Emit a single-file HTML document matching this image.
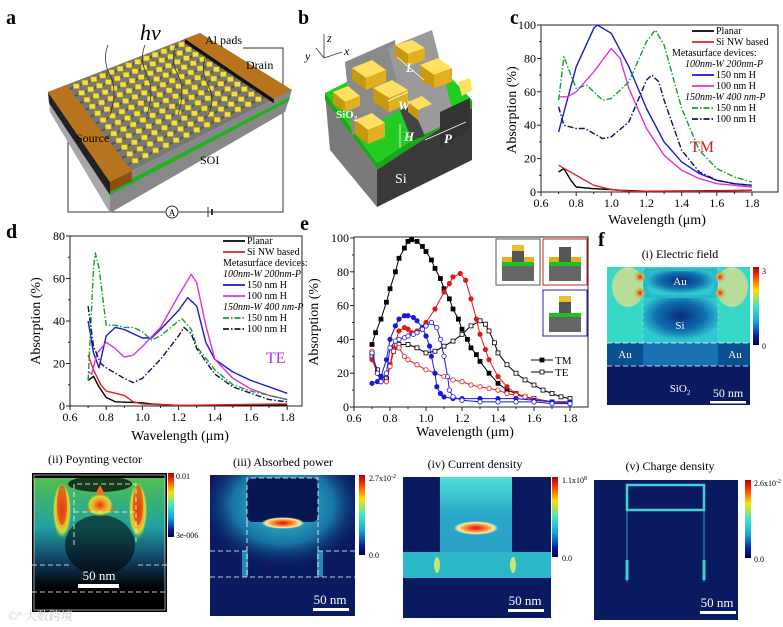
<!DOCTYPE html>
<html><head><meta charset="utf-8"><style>
html,body{margin:0;padding:0;background:#fff;}
svg{display:block;font-family:"Liberation Serif","Noto Serif CJK SC",serif;}
</style></head><body>
<svg id="fig" width="783" height="627" viewBox="0 0 783 627" xmlns="http://www.w3.org/2000/svg">
<defs>
<linearGradient id="jet" x1="0" y1="0" x2="0" y2="1">
<stop offset="0" stop-color="#b00000"/><stop offset="0.12" stop-color="#ff3a00"/><stop offset="0.3" stop-color="#ffe000"/><stop offset="0.5" stop-color="#40e8c0"/><stop offset="0.7" stop-color="#10a8d8"/><stop offset="0.88" stop-color="#0820a0"/><stop offset="1" stop-color="#000050"/>
</linearGradient>
<radialGradient id="glowCyan" cx="0.5" cy="0.5" r="0.5"><stop offset="0" stop-color="#40e0d0"/><stop offset="0.6" stop-color="#1a8ab8" stop-opacity="0.8"/><stop offset="1" stop-color="#0a1a60" stop-opacity="0"/></radialGradient>
<radialGradient id="redSpot" cx="0.5" cy="0.5" r="0.5"><stop offset="0" stop-color="#e02010"/><stop offset="0.5" stop-color="#f0a030"/><stop offset="1" stop-color="#40e0c8" stop-opacity="0"/></radialGradient>
<radialGradient id="hotEll" cx="0.5" cy="0.5" r="0.5"><stop offset="0" stop-color="#d01010"/><stop offset="0.5" stop-color="#ff9040"/><stop offset="0.8" stop-color="#fff0a0"/><stop offset="1" stop-color="#60e0d0" stop-opacity="0"/></radialGradient>
<linearGradient id="colG" x1="0" y1="0" x2="0" y2="1"><stop offset="0" stop-color="#50e0d8"/><stop offset="0.5" stop-color="#2aa8c8"/><stop offset="1" stop-color="#2aa0c8"/></linearGradient>
<radialGradient id="blueCore" cx="0.5" cy="0.4" r="0.55"><stop offset="0" stop-color="#0a2a80"/><stop offset="0.6" stop-color="#1070b0"/><stop offset="1" stop-color="#30c8d0"/></radialGradient>
<radialGradient id="flame" cx="0.5" cy="0.5" r="0.5"><stop offset="0" stop-color="#e03010"/><stop offset="0.45" stop-color="#f8a020"/><stop offset="0.75" stop-color="#c8e040"/><stop offset="1" stop-color="#20a060" stop-opacity="0"/></radialGradient>
<linearGradient id="greenField" x1="0" y1="0" x2="0" y2="1"><stop offset="0" stop-color="#50c050"/><stop offset="0.45" stop-color="#20a0a0"/><stop offset="0.75" stop-color="#104060"/><stop offset="1" stop-color="#000"/></linearGradient>
<clipPath id="clipII"><rect x="32" y="473" width="135" height="139"/></clipPath>
<clipPath id="clipIII"><rect x="210" y="475" width="145" height="141"/></clipPath>
<clipPath id="clipIV"><rect x="403" y="477" width="148" height="141"/></clipPath>
<clipPath id="clipF"><rect x="607" y="267" width="143" height="138"/></clipPath>
</defs>

<!-- ============ Panel a ============ -->
<g id="panel-a">
<text x="6" y="24" font-size="20" font-weight="bold">a</text>
<polyline points="68,112 68,212 283,212 283,48 243,48" fill="none" stroke="#333" stroke-width="1"/>
<g id="a-body"></g>
<circle cx="172" cy="212" r="6" fill="#fff" stroke="#333"/>
<text x="172" y="216" font-size="9" text-anchor="middle">A</text>
<line x1="208" y1="207" x2="208" y2="217" stroke="#333"/>
<line x1="212" y1="209" x2="212" y2="215" stroke="#333" stroke-width="2"/>
<path d="M108,45 q-6,15 2,30 t0,40 M145,45 q-6,15 2,30 t0,40 M176,45 q-6,15 2,30 t0,40 M206,55 q-6,15 2,30 t0,30" fill="none" stroke="#333" stroke-width="0.8"/>
<text x="140" y="40" font-size="22" font-style="italic">hv</text>
<text x="205" y="44" font-size="12">Al pads</text>
<text x="246" y="69" font-size="12">Drain</text>
<text x="76" y="142" font-size="12">Source</text>
<text x="200" y="164" font-size="12">SOI</text>
</g>

<!-- ============ Panel b ============ -->
<g id="panel-b">
<text x="298" y="24" font-size="20" font-weight="bold">b</text>
<g stroke="#333" stroke-width="0.8" fill="none">
<line x1="324" y1="58" x2="324" y2="34"/><line x1="324" y1="58" x2="342" y2="52"/><line x1="324" y1="58" x2="316" y2="48"/>
</g>
<text x="327" y="42" font-size="12" font-style="italic">z</text>
<text x="344" y="55" font-size="12" font-style="italic">x</text>
<text x="305" y="60" font-size="12" font-style="italic">y</text>
<polygon points="325,93 377,163 377,207 330,150" fill="#7a7a7a"/>
<polygon points="377,163 472,108 472,160 377,207" fill="#3a3a3a"/>
<polygon points="325,93 420,45 472,100 377,163" fill="#22cc22"/>
<polygon points="325,93 377,163 377,168 325,100" fill="#1aa81a"/>
<polygon points="377,163 472,100 472,108 377,170" fill="#1aa81a"/>
<polygon points="345,62 395,40 400,110 352,135" fill="#8a8a8a"/>
<polygon points="388,48 432,30 455,120 412,140" fill="#9a9a9a"/>
<polygon points="400,110 412,140 425,136 412,106" fill="#444"/>
<polygon points="440,112 470,98 470,130 440,148" fill="#333"/>
<g>
<polygon points="352,68 372,60 386,70 366,78" fill="#ffe060"/><polygon points="352,68 366,78 366,90 352,80" fill="#c89810"/><polygon points="366,78 386,70 386,82 366,90" fill="#e0b020"/>
<polygon points="395,45 412,40 425,48 408,54" fill="#ffe060"/><polygon points="395,45 408,54 408,66 395,58" fill="#c89810"/><polygon points="408,54 425,48 425,60 408,66" fill="#e0b020"/>
<polygon points="373,88 392,80 408,90 389,98" fill="#ffe060"/><polygon points="373,88 389,98 389,112 373,102" fill="#c89810"/><polygon points="389,98 408,90 408,104 389,112" fill="#e0b020"/>
<polygon points="420,65 438,58 452,68 434,75" fill="#ffe060"/><polygon points="420,65 434,75 434,88 420,80" fill="#c89810"/><polygon points="434,75 452,68 452,82 434,88" fill="#e0b020"/>
<polygon points="333,92 348,86 360,96 345,102" fill="#ffe060"/><polygon points="333,92 345,102 345,112 333,104" fill="#c89810"/><polygon points="345,102 360,96 360,106 345,112" fill="#e0b020"/>
<polygon points="355,120 372,113 385,123 368,130" fill="#ffe060"/><polygon points="355,120 368,130 368,144 355,134" fill="#c89810"/><polygon points="368,130 385,123 385,137 368,144" fill="#e0b020"/>
<polygon points="408,102 422,96 432,104 418,110" fill="#ffe060"/><polygon points="408,102 418,110 418,120 408,112" fill="#c89810"/>
<polygon points="458,82 470,78 472,90 462,96" fill="#ffe060"/>
</g>
<g stroke="#fff" stroke-width="0.8">
<line x1="397" y1="57" x2="424" y2="80"/><line x1="388" y1="101" x2="408" y2="92"/><line x1="400" y1="124" x2="400" y2="148"/><line x1="425" y1="140" x2="466" y2="122"/>
</g>
<text x="406" y="72" font-size="13" font-weight="bold" font-style="italic" fill="#fff">L</text>
<text x="398" y="110" font-size="13" font-weight="bold" font-style="italic" fill="#fff">W</text>
<text x="404" y="141" font-size="13" font-weight="bold" font-style="italic" fill="#fff">H</text>
<text x="444" y="143" font-size="13" font-weight="bold" font-style="italic" fill="#fff">P</text>
<text x="336" y="118" font-size="11" font-weight="bold" fill="#fff">SiO<tspan font-size="7" dy="3">2</tspan></text>
<text x="395" y="183" font-size="14" fill="#fff">Si</text>
</g>

<!-- ============ Charts ============ -->
<g id="panel-c">
<text x="510" y="24" font-size="20" font-weight="bold">c</text>
</g>
<g id="panel-d">
<text x="6" y="238" font-size="20" font-weight="bold">d</text>
</g>
<g id="panel-e">
<text x="300" y="230" font-size="20" font-weight="bold">e</text>
</g>

<!-- ============ Panel f (i) ============ -->
<g id="panel-f">
<text x="598" y="246" font-size="20" font-weight="bold">f</text>
<text x="680" y="258" font-size="12" text-anchor="middle">(i) Electric field</text>
<g clip-path="url(#clipF)">
<rect x="607" y="267" width="143" height="138" fill="#38d8c8"/>
<ellipse cx="628" cy="287" rx="16" ry="20" fill="#f0e080" opacity="0.7"/>
<ellipse cx="732" cy="287" rx="16" ry="20" fill="#f0e080" opacity="0.7"/>
<rect x="643" y="268" width="75" height="30" rx="4" fill="#28b8c8"/>
<rect x="648" y="271" width="65" height="24" rx="6" fill="url(#blueCore)"/>
<rect x="643" y="298" width="75" height="45" fill="url(#blueCore)"/>
<circle cx="640" cy="277" r="6" fill="url(#redSpot)"/><circle cx="640" cy="293" r="6" fill="url(#redSpot)"/>
<circle cx="720" cy="277" r="6" fill="url(#redSpot)"/><circle cx="720" cy="293" r="6" fill="url(#redSpot)"/>
<rect x="607" y="343" width="36" height="23" fill="#0a5090"/>
<rect x="718" y="343" width="32" height="23" fill="#0a5090"/>
<rect x="643" y="343" width="75" height="23" fill="#1a70b0"/>
<rect x="607" y="366" width="143" height="39" fill="#0a1a60"/>
</g>
<line x1="607" y1="343" x2="750" y2="343" stroke="#fff" stroke-dasharray="5,3" stroke-width="0.8"/>
<line x1="607" y1="366" x2="750" y2="366" stroke="#fff" stroke-dasharray="5,3" stroke-width="0.8"/>
<line x1="643" y1="268" x2="643" y2="343" stroke="#fff" stroke-dasharray="3,3" stroke-width="0.5" opacity="0.6"/>
<line x1="718" y1="268" x2="718" y2="343" stroke="#fff" stroke-dasharray="3,3" stroke-width="0.5" opacity="0.6"/>
<text x="680" y="285" font-size="11" fill="#fff" text-anchor="middle">Au</text>
<text x="680" y="329" font-size="11" fill="#fff" text-anchor="middle">Si</text>
<text x="625" y="358" font-size="11" fill="#fff" text-anchor="middle">Au</text>
<text x="735" y="358" font-size="11" fill="#fff" text-anchor="middle">Au</text>
<text x="680" y="392" font-size="11" fill="#fff" text-anchor="middle">SiO<tspan font-size="7" dy="3">2</tspan></text>
<text x="728" y="397" font-size="12" fill="#fff" text-anchor="middle">50 nm</text>
<rect x="710" y="401" width="36" height="2.5" fill="#fff"/>
<rect x="753" y="267" width="6" height="78" fill="url(#jet)"/>
<text x="762" y="274" font-size="8">3</text><text x="762" y="349" font-size="8">0</text>
</g>

<!-- ============ (ii) Poynting ============ -->
<g id="panel-ii">
<text x="95" y="463" font-size="12" text-anchor="middle">(ii) Poynting vector</text>
<rect x="32" y="473" width="135" height="139" fill="#000"/>
<g clip-path="url(#clipII)">
<rect x="34" y="478" width="131" height="110" fill="url(#greenField)"/>
<ellipse cx="100" cy="545" rx="35" ry="30" fill="#000" opacity="0.55"/>
<ellipse cx="100" cy="484" rx="32" ry="8" fill="#000" opacity="0.7"/>
<polygon points="100,485 86,512 114,512" fill="#f07020"/>
<ellipse cx="100" cy="505" rx="14" ry="12" fill="url(#flame)"/>
<ellipse cx="62" cy="510" rx="10" ry="30" fill="url(#flame)"/>
<ellipse cx="138" cy="510" rx="10" ry="30" fill="url(#flame)"/>
<ellipse cx="62" cy="505" rx="5" ry="20" fill="#e04010" opacity="0.7"/>
<ellipse cx="138" cy="505" rx="5" ry="20" fill="#e04010" opacity="0.7"/>
</g>
<rect x="34" y="475" width="131" height="135" fill="none" stroke="#fff" stroke-width="0.6"/>
<g stroke="#fff" stroke-dasharray="5,3" stroke-width="0.8" fill="none">
<polyline points="74,545 74,484 136,484 136,545"/><line x1="74" y1="512" x2="136" y2="512"/>
<line x1="32" y1="565" x2="72" y2="565"/><line x1="138" y1="565" x2="167" y2="565"/>
<line x1="32" y1="592" x2="167" y2="592"/>
</g>
<text x="99" y="580" font-size="13" fill="#fff" text-anchor="middle">50 nm</text>
<rect x="78" y="584" width="41" height="4" fill="#fff"/>
<rect x="168" y="473" width="6" height="64" fill="url(#jet)"/>
<text x="176" y="479" font-size="8">0.01</text><text x="176" y="538" font-size="8">3e-006</text>
<text x="8" y="620" font-size="12" fill="#ccc">©° 大数跨境</text>
</g>

<!-- ============ (iii) Absorbed power ============ -->
<g id="panel-iii">
<text x="283" y="466" font-size="12" text-anchor="middle">(iii) Absorbed power</text>
<rect x="210" y="475" width="145" height="141" fill="#0a1a60"/>
<g clip-path="url(#clipIII)">
<ellipse cx="283" cy="505" rx="85" ry="65" fill="url(#glowCyan)"/>
<rect x="247" y="478" width="71" height="44" rx="6" fill="#061650"/>
<ellipse cx="283" cy="523" rx="22" ry="6" fill="url(#hotEll)"/>
<rect x="242" y="551" width="6" height="26" fill="#30b8d0" opacity="0.7"/>
<rect x="317" y="551" width="6" height="26" fill="#30b8d0" opacity="0.7"/>
</g>
<g stroke="#fff" stroke-dasharray="5,3" stroke-width="0.8" fill="none">
<polyline points="247,522 247,478 318,478 318,522"/>
<line x1="247" y1="522" x2="247" y2="577"/><line x1="318" y1="522" x2="318" y2="577"/>
<line x1="210" y1="551" x2="247" y2="551"/><line x1="318" y1="551" x2="355" y2="551"/>
<line x1="210" y1="577" x2="355" y2="577"/>
</g>
<text x="330" y="604" font-size="13" fill="#fff" text-anchor="middle">50 nm</text>
<rect x="313" y="608" width="36" height="3" fill="#fff"/>
<rect x="359" y="475" width="6" height="80" fill="url(#jet)"/>
<text x="369" y="481" font-size="8">2.7x10<tspan font-size="6" dy="-3">-2</tspan></text><text x="369" y="558" font-size="8">0.0</text>
</g>

<!-- ============ (iv) Current density ============ -->
<g id="panel-iv">
<text x="475" y="468" font-size="12" text-anchor="middle">(iv)  Current density</text>
<rect x="403" y="477" width="148" height="141" fill="#0a1a60"/>
<g clip-path="url(#clipIV)">
<rect x="440" y="477" width="72" height="75" fill="url(#colG)"/>
<rect x="403" y="552" width="148" height="26" fill="#2ab8c8"/>
<ellipse cx="476" cy="528" rx="23" ry="7" fill="url(#hotEll)"/>
<ellipse cx="437" cy="565" rx="3" ry="8" fill="#f0f060" opacity="0.8"/>
<ellipse cx="513" cy="565" rx="3" ry="8" fill="#f0f060" opacity="0.8"/>
</g>
<text x="525" y="605" font-size="13" fill="#fff" text-anchor="middle">50 nm</text>
<rect x="508" y="609" width="36" height="3" fill="#fff"/>
<rect x="552" y="477" width="6" height="80" fill="url(#jet)"/>
<text x="562" y="483" font-size="8">1.1x10<tspan font-size="6" dy="-3">8</tspan></text><text x="562" y="561" font-size="8">0.0</text>
</g>

<!-- ============ (v) Charge density ============ -->
<g id="panel-v">
<text x="670" y="470" font-size="12" text-anchor="middle">(v) Charge density</text>
<rect x="594" y="480" width="144" height="140" fill="#0a1a60"/>
<g stroke="#40d0d0" stroke-width="2.5" fill="none">
<rect x="627" y="485" width="77" height="25"/>
<line x1="627" y1="510" x2="627" y2="582" stroke-width="1.2" opacity="0.6"/>
<line x1="704" y1="510" x2="704" y2="582" stroke-width="1.2" opacity="0.6"/>
<line x1="627" y1="560" x2="627" y2="580" stroke-width="3"/>
<line x1="704" y1="560" x2="704" y2="580" stroke-width="3"/>
</g>
<text x="717" y="607" font-size="13" fill="#fff" text-anchor="middle">50 nm</text>
<rect x="700" y="611" width="36" height="3" fill="#fff"/>
<rect x="745" y="480" width="6" height="78" fill="url(#jet)"/>
<text x="754" y="486" font-size="8">2.6x10<tspan font-size="6" dy="-3">-2</tspan></text><text x="754" y="562" font-size="8">0.0</text>
</g>
</svg>

<script>
const NS='http://www.w3.org/2000/svg';
// ---------- Panel c (TM) data ----------
const cWlPlanar=[0.7,0.73,0.77,0.8,0.9,1.0,1.05,1.2,1.5,1.8];
const cAbsPlanar=[12,14,7,3,2,1.5,1,0.5,0.7,1];
const cWlNW=[0.7,0.8,0.9,1.0,1.1,1.5,1.8];
const cAbsNW=[16,10,4,1.5,0.5,0.5,1];
const cWlBlue=[0.7,0.8,0.9,0.92,1.0,1.1,1.2,1.3,1.4,1.5,1.6,1.7,1.8];
const cAbsBlue=[36,75,98,100,95,75,50,30,18,11,7,5,4];
const cWlMag=[0.7,0.75,0.8,0.9,1.0,1.05,1.1,1.2,1.3,1.4,1.5,1.6,1.8];
const cAbsMag=[57,57,60,72,86,80,62,38,22,13,8,5,3];
const cWlGreen=[0.7,0.73,0.77,0.8,0.86,0.9,0.95,1.0,1.1,1.2,1.25,1.3,1.4,1.5,1.6,1.7,1.8];
const cAbsGreen=[55,81,70,62,64,60,55,56,66,90,97,88,50,25,14,9,6];
const cWlNavy=[0.7,0.73,0.8,0.85,0.9,0.95,1.0,1.1,1.2,1.23,1.27,1.3,1.4,1.5,1.6,1.7,1.8];
const cAbsNavy=[51,40,38,38,35,32,33,42,67,70,66,55,25,12,7,5,4];
// ---------- Panel d (TE) data ----------
const dWlPlanar=[0.7,0.73,0.76,0.8,0.85,1.0,1.05,1.2,1.8];
const dAbsPlanar=[12,14,9,4,2,1.5,1,0.3,0.5];
const dWlNW=[0.7,0.73,0.77,0.8,0.9,0.95,1.0,1.2,1.8];
const dAbsNW=[24,17,10,7,5,2,1,0.3,1];
const dWlBlue=[0.7,0.73,0.76,0.8,0.85,0.9,0.95,1.0,1.05,1.1,1.2,1.25,1.3,1.35,1.4,1.5,1.6,1.7,1.8];
const dAbsBlue=[40,25,18,33,37,36,34,32,32,36,45,51,47,30,22,16,12,9,6];
const dWlMag=[0.7,0.72,0.75,0.8,0.85,0.9,0.95,1.0,1.1,1.2,1.27,1.3,1.35,1.4,1.5,1.6,1.7,1.8];
const dAbsMag=[16,15,25,30,27,23,24,28,37,52,62,58,38,22,13,8,5,3];
const dWlGreen=[0.7,0.73,0.74,0.76,0.8,0.85,0.9,0.95,1.0,1.05,1.1,1.2,1.22,1.27,1.3,1.4,1.5,1.6,1.7,1.8];
const dAbsGreen=[12,65,72,65,38,38,37,37,35,31,33,40,41,36,28,17,10,7,5,3];
const dWlNavy=[0.7,0.73,0.77,0.8,0.9,0.95,1.0,1.1,1.2,1.23,1.27,1.3,1.4,1.5,1.6,1.7,1.8];
const dAbsNavy=[47,28,20,18,13,11,13,22,33,37,34,27,15,9,6,3,2];
// ---------- Panel e data ----------
const eWlBlackTM=[0.7,0.72,0.75,0.78,0.8,0.83,0.85,0.88,0.9,0.92,0.95,0.98,1.0,1.03,1.05,1.08,1.1,1.13,1.15,1.18,1.2,1.23,1.25,1.28,1.3,1.35,1.4,1.45,1.5,1.55,1.6,1.7,1.8];
const eAbsBlackTM=[37,44,52,62,70,80,88,94,98,99,98,95,92,87,82,76,70,64,58,52,46,40,35,31,27,20,14,10,8,6,5,3,3];
const eWlBlackTE=[0.7,0.73,0.75,0.78,0.8,0.82,0.85,0.9,0.95,1.0,1.05,1.1,1.15,1.2,1.25,1.3,1.33,1.35,1.38,1.4,1.45,1.5,1.55,1.6,1.65,1.7,1.75,1.8];
const eAbsBlackTE=[30,22,18,17,25,33,37,37,35,32,33,36,39,43,48,51,49,45,38,32,25,20,16,13,10,8,6,5];
const eWlRedTM=[0.7,0.73,0.75,0.78,0.8,0.82,0.85,0.88,0.9,0.92,0.95,1.0,1.05,1.1,1.13,1.15,1.19,1.22,1.25,1.28,1.3,1.33,1.35,1.4,1.45,1.5,1.6,1.7,1.8];
const eAbsRedTM=[28,20,15,15,25,35,45,47,46,44,45,50,58,68,73,77,79,75,64,52,43,34,28,18,12,8,4,3,2];
const eWlRedTE=[0.7,0.73,0.75,0.78,0.8,0.82,0.85,0.88,0.9,0.95,1.0,1.05,1.1,1.15,1.2,1.25,1.3,1.35,1.4,1.45,1.5,1.55,1.6,1.7,1.8];
const eAbsRedTE=[33,20,16,15,24,33,35,30,28,25,22,20,18,16,15,13,12,11,10,8,7,6,5,3,2];
const eWlBlueTM=[0.7,0.73,0.75,0.78,0.8,0.83,0.85,0.88,0.9,0.93,0.95,0.98,1.0,1.02,1.03,1.05,1.06,1.08,1.1,1.15,1.2,1.3,1.4,1.5,1.6,1.7,1.8];
const eAbsBlueTM=[14,15,18,28,40,48,52,54,54,53,51,47,42,36,30,20,12,8,6,5,5,5,5,5,4,3,3];
const eWlBlueTE=[0.7,0.73,0.75,0.78,0.8,0.83,0.85,0.88,0.9,0.93,0.95,0.98,1.0,1.03,1.06,1.08,1.1,1.12,1.13,1.15,1.2,1.3,1.4,1.5,1.6,1.7,1.8];
const eAbsBlueTE=[32,20,15,20,35,39,40,41,42,43,44,46,48,50,47,40,30,18,10,6,4,3,3,3,3,2,2];
const xTicks=[0.6,0.8,1.0,1.2,1.4,1.6,1.8];
const xTickLabels=['0.6','0.8','1.0','1.2','1.4','1.6','1.8'];
const yTicksC=[0,20,40,60,80,100];
const yTicksD=[0,20,40,60,80];

function mk(parent,tag,attrs,text){const el=document.createElementNS(NS,tag);for(const k in attrs)el.setAttribute(k,attrs[k]);if(text!==undefined)el.textContent=text;parent.appendChild(el);return el;}

function axes(g,X,Y,frame,yTicks,xlab,ylab){
  const f=mk(g,'rect',{x:frame[0],y:frame[1],width:frame[2]-frame[0],height:frame[3]-frame[1],fill:'none',stroke:'#222','stroke-width':1});
  
  
  const b=frame[3];
  for(let w=0.6;w<=1.85;w+=0.1){const x=X(w);if(x<frame[0]-0.5||x>frame[2])continue;mk(g,'line',{x1:x,y1:b,x2:x,y2:b+(Math.round(w*10)%2===0?4:2),stroke:'#222'});}
  xTicks.forEach((w,i)=>{const t=mk(g,'text',{x:X(w),y:b+15,'font-size':12,'text-anchor':'middle'},xTickLabels[i]);
    
    });
  yTicks.forEach(v=>{mk(g,'line',{x1:frame[0]-4,y1:Y(v),x2:frame[0],y2:Y(v),stroke:'#222'});
    if(v+10<=yTicks[yTicks.length-1])mk(g,'line',{x1:frame[0]-2,y1:Y(v+10),x2:frame[0],y2:Y(v+10),stroke:'#222'});
    const t=mk(g,'text',{x:frame[0]-5,y:Y(v)+4,'font-size':12,'text-anchor':'end'},String(v));
    
    });
  const xl=mk(g,'text',{x:xlab[0],y:xlab[1],'font-size':14,'text-anchor':'middle'},'Wavelength (μm)');
  
  
  const yl=mk(g,'text',{x:0,y:0,'font-size':14,'text-anchor':'middle',transform:`translate(${ylab[0]},${ylab[1]}) rotate(-90)`},'Absorption (%)');
  
  
}
function line(g,xs,ys,X,Y,color,dash,name,w){
  const p=mk(g,'polyline',{points:xs.map((x,i)=>X(x).toFixed(1)+','+Y(ys[i]).toFixed(1)).join(' '),fill:'none',stroke:color,'stroke-width':w||1.4,'stroke-dasharray':dash||'none','stroke-linejoin':'round'});
  
  
}
function legend(g,x,y,items){
  items.forEach((it,i)=>{const yy=y+i*11;
    if(it.c){mk(g,'line',{x1:x,y1:yy-3,x2:x+22,y2:yy-3,stroke:it.c,'stroke-width':1.8,'stroke-dasharray':it.d||'none'});}
    const t=mk(g,'text',{x:it.c?x+24:x+it.off,y:yy,'font-size':10,'font-style':it.i?'italic':'normal'},it.t);
    
    });
}
const DD='6,2,1.5,2';
// ---- Panel c ----
(function(){
  const g=document.getElementById('panel-c');
  const X=w=>541+(w-0.6)*(752-541)/1.2, Y=v=>192-v*1.67;
  axes(g,X,Y,[541,25,778,192],yTicksC,[657,224],[516,110]);
  line(g,cWlPlanar,cAbsPlanar,X,Y,'#000','','planar-line');
  line(g,cWlNW,cAbsNW,X,Y,'#e02020','','si-nw-line');
  line(g,cWlBlue,cAbsBlue,X,Y,'#1a1ad0','','w100-h150-line');
  line(g,cWlMag,cAbsMag,X,Y,'#e030e0','','w100-h100-line');
  line(g,cWlGreen,cAbsGreen,X,Y,'#10a030',DD,'w150-h150-line');
  line(g,cWlNavy,cAbsNavy,X,Y,'#101060',DD,'w150-h100-line');
  legend(g,692,34,[{t:'Planar',c:'#000'},{t:'Si NW based',c:'#e02020'},{t:'Metasurface devices:',off:-20},{t:'100nm-W 200nm-P',off:-7,i:1},{t:'150 nm H',c:'#1a1ad0'},{t:'100 nm H',c:'#e030e0'},{t:'150nm-W 400 nm-P',off:-7,i:1},{t:'150 nm H',c:'#10a030',d:DD},{t:'100 nm H',c:'#101060',d:DD}]);
  const t=mk(g,'text',{x:690,y:152,'font-size':16,fill:'#d02020'},'TM');
  
  
})();
// ---- Panel d ----
(function(){
  const g=document.getElementById('panel-d');
  const X=w=>70+(w-0.6)*181, Y=v=>406-v*2.125;
  axes(g,X,Y,[70,236,302,406],yTicksD,[180,440],[40,321]);
  line(g,dWlPlanar,dAbsPlanar,X,Y,'#000','','planar-line');
  line(g,dWlNW,dAbsNW,X,Y,'#e02020','','si-nw-line');
  line(g,dWlBlue,dAbsBlue,X,Y,'#1a1ad0','','w100-h150-line');
  line(g,dWlMag,dAbsMag,X,Y,'#e030e0','','w100-h100-line');
  line(g,dWlGreen,dAbsGreen,X,Y,'#10a030',DD,'w150-h150-line');
  line(g,dWlNavy,dAbsNavy,X,Y,'#101060',DD,'w150-h100-line');
  legend(g,223,244,[{t:'Planar',c:'#000'},{t:'Si NW based',c:'#e02020'},{t:'Metasurface devices:',off:0},{t:'100nm-W 200nm-P',off:0,i:1},{t:'150 nm H',c:'#1a1ad0'},{t:'100 nm H',c:'#e030e0'},{t:'150nm-W 400 nm-P',off:0,i:1},{t:'150 nm H',c:'#10a030',d:DD},{t:'100 nm H',c:'#101060',d:DD}]);
  const t=mk(g,'text',{x:266,y:363,'font-size':16,fill:'#b030d0'},'TE');
  
  
})();
// ---- Panel e ----
(function(){
  const g=document.getElementById('panel-e');
  const X=w=>354+(w-0.6)*180, Y=v=>407-v*1.69;
  axes(g,X,Y,[354,237,588,407],yTicksC,[465,436],[318,322]);
  const series=[[eWlBlackTM,eAbsBlackTM,'#000',1,'sq','black-tm'],[eWlBlackTE,eAbsBlackTE,'#000',0,'sq','black-te'],
   [eWlRedTM,eAbsRedTM,'#e01818',1,'ci','red-tm'],[eWlRedTE,eAbsRedTE,'#e01818',0,'ci','red-te'],
   [eWlBlueTM,eAbsBlueTM,'#1818e0',1,'ci','blue-tm'],[eWlBlueTE,eAbsBlueTE,'#1818e0',0,'ci','blue-te']];
  series.forEach(s=>{
    line(g,s[0],s[1],X,Y,s[2],'',s[5]+'-line',1);
    s[0].forEach((w,i)=>{let m;
      if(s[4]==='sq')m=mk(g,'rect',{x:X(w)-2,y:Y(s[1][i])-2,width:4,height:4,fill:s[3]?s[2]:'#fff',stroke:s[2],'stroke-width':0.8});
      else m=mk(g,'circle',{cx:X(w),cy:Y(s[1][i]),r:2.2,fill:s[3]?s[2]:'#fff',stroke:s[2],'stroke-width':0.8});
      
      });
  });
  [['TM',1,364],['TE',0,376]].forEach(l=>{mk(g,'line',{x1:531,y1:l[2]-4,x2:553,y2:l[2]-4,stroke:'#000'});
    mk(g,'rect',{x:540,y:l[2]-6,width:4,height:4,fill:l[1]?'#000':'#fff',stroke:'#000','stroke-width':0.8});
    const t=mk(g,'text',{x:555,y:l[2],'font-size':11},l[0]);
    
    });
  [[496,239,'#555'],[543,239,'#d02020'],[543,290,'#2020c0']].forEach((b,k)=>{
    const r=mk(g,'rect',{x:b[0],y:b[1],width:44,height:46,fill:'#fff',stroke:b[2],'stroke-width':1});
    
    
    const x0=b[0],y0=b[1];
    mk(g,'rect',{x:x0+6,y:y0+26,width:32,height:16,fill:'#666'});
    mk(g,'rect',{x:x0+6,y:y0+23,width:32,height:4,fill:'#20c020'});
    if(k<2){mk(g,'rect',{x:x0+6,y:y0+18,width:10,height:5,fill:'#e0b020'});mk(g,'rect',{x:x0+28,y:y0+18,width:10,height:5,fill:'#e0b020'});}
    mk(g,'rect',{x:x0+16,y:y0+8,width:12,height:15,fill:'#555'});
    if(k!==1)mk(g,'rect',{x:x0+16,y:y0+6,width:12,height:6,fill:'#e8c030'});
  });
})();
// ---- Panel a device body ----
(function(){
  const g=document.getElementById('a-body');
  const A=[48,92],B=[200,33],C=[292,90],D=[110,182];
  const P=(u,v)=>[(1-u)*(1-v)*A[0]+u*(1-v)*B[0]+u*v*C[0]+(1-u)*v*D[0],(1-u)*(1-v)*A[1]+u*(1-v)*B[1]+u*v*C[1]+(1-u)*v*D[1]];
  const pts=a=>a.map(p=>p[0].toFixed(1)+','+p[1].toFixed(1)).join(' ');
  const s1=mk(g,'polygon',{points:pts([A,D,[110,213],[50,112]]),fill:'#a8a8a8'});
  
  
  const s2=mk(g,'polygon',{points:pts([D,C,[285,112],[110,213]]),fill:'#888'});
  
  
  mk(g,'polygon',{points:pts([[110,190],[290,97],[289,101],[110,195]]),fill:'#20b020'});
  mk(g,'polygon',{points:pts([A,D,[110,195],[49,103]]),fill:'#222'});
  const top=mk(g,'polygon',{points:pts([A,B,C,D]),fill:'#777'});
  
  
  for(let r=0;r<12;r++){const v=0.05+r*0.08;mk(g,'line',{x1:P(0.12,v)[0],y1:P(0.12,v)[1],x2:P(0.9,v)[0],y2:P(0.9,v)[1],stroke:'#555','stroke-width':2});}
  for(let r=0;r<12;r++)for(let c=0;c<13;c++){const u=0.16+c*0.057,v=0.06+r*0.08;const p=P(u,v);
    const q=mk(g,'rect',{x:p[0]-3,y:p[1]-4,width:6,height:5,fill:'#f0e040',stroke:'#b89a10','stroke-width':0.6});
    
    }
  const lp=mk(g,'polygon',{points:pts([P(0,0),P(0.12,0),P(0.12,1),P(0,1)]),fill:'#b8741c'});
  
  
  mk(g,'polygon',{points:pts([P(0,1),P(0.12,1),[P(0.12,1)[0],P(0.12,1)[1]+10],[P(0,1)[0],P(0,1)[1]+10]]),fill:'#8a5010'});
  const rp=mk(g,'polygon',{points:pts([P(0.9,0),P(1,0),P(1,1),P(0.9,1)]),fill:'#b8741c'});
  
  
  mk(g,'polygon',{points:pts([P(0.9,0),P(0.9,1),[P(0.9,1)[0],P(0.9,1)[1]+4],[P(0.9,0)[0],P(0.9,0)[1]+4]]),fill:'#111'});
})();
</script>
</body></html>
